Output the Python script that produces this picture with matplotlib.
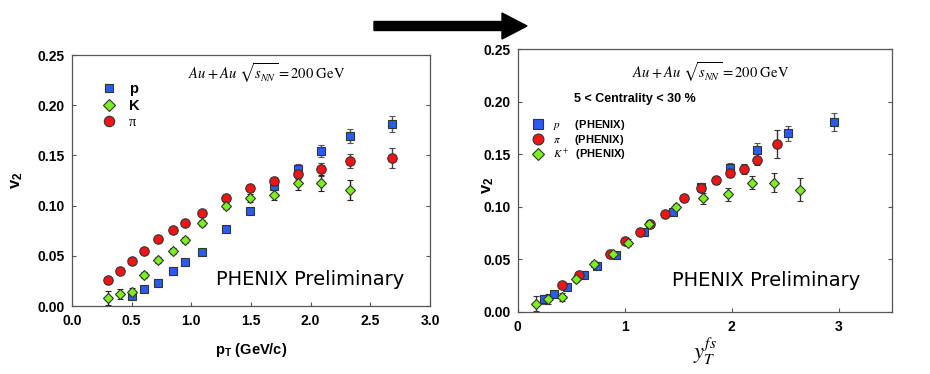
import matplotlib
matplotlib.use("Agg")
import matplotlib.pyplot as plt
from matplotlib.patches import FancyArrow

plt.rcParams['font.family'] = ['Liberation Sans', 'DejaVu Sans']
plt.rcParams['mathtext.fontset'] = 'custom'
plt.rcParams['mathtext.rm'] = 'Liberation Sans'
plt.rcParams['mathtext.bf'] = 'Liberation Sans:bold'
plt.rcParams['mathtext.it'] = 'Liberation Sans:italic'

# ---- left panel: v2 vs pT ----
pt_p = [0.5, 0.6, 0.72, 0.85, 0.95, 1.09, 1.29, 1.49, 1.69, 1.89, 2.09, 2.33, 2.68]
v2_p = [0.010, 0.017, 0.023, 0.035, 0.0435, 0.054, 0.077, 0.0945, 0.120, 0.136, 0.154, 0.169, 0.181]
err_p = [0.002, 0.002, 0.002, 0.002, 0.002, 0.002, 0.002, 0.003, 0.004, 0.005, 0.006, 0.007, 0.008]

pt_pi = [0.3, 0.4, 0.5, 0.6, 0.72, 0.85, 0.95, 1.09, 1.29, 1.49, 1.69, 1.89, 2.09, 2.33, 2.68]
v2_pi = [0.0255, 0.035, 0.0445, 0.055, 0.067, 0.0757, 0.083, 0.093, 0.108, 0.118, 0.125, 0.132, 0.136, 0.144, 0.147]
err_pi = [0.002, 0.002, 0.002, 0.002, 0.002, 0.002, 0.002, 0.002, 0.003, 0.003, 0.004, 0.005, 0.006, 0.007, 0.010]

pt_k = [0.3, 0.4, 0.5, 0.6, 0.72, 0.85, 0.95, 1.09, 1.29, 1.49, 1.69, 1.89, 2.09, 2.33]
v2_k = [0.0076, 0.012, 0.0136, 0.031, 0.0455, 0.055, 0.066, 0.083, 0.100, 0.108, 0.111, 0.123, 0.123, 0.116]
err_k = [0.007, 0.005, 0.004, 0.003, 0.003, 0.003, 0.003, 0.003, 0.003, 0.004, 0.005, 0.007, 0.008, 0.010]

# ---- right panel: v2 vs yT^fs ----
yt_p = [0.247, 0.34, 0.465, 0.62, 0.74, 0.918, 1.183, 1.449, 1.708, 1.98, 2.232, 2.529, 2.957]
v2r_p = [0.0118, 0.017, 0.0238, 0.035, 0.0435, 0.054, 0.0762, 0.0953, 0.1185, 0.1366, 0.154, 0.170, 0.181]
errr_p = [0.004, 0.002, 0.002, 0.002, 0.002, 0.002, 0.002, 0.003, 0.004, 0.005, 0.0067, 0.007, 0.0086]

yt_pi = [0.415, 0.568, 0.859, 1.0, 1.14, 1.24, 1.38, 1.55, 1.71, 1.85, 1.98, 2.11, 2.24, 2.42]
v2r_pi = [0.0254, 0.035, 0.055, 0.0677, 0.0762, 0.0832, 0.093, 0.108, 0.1175, 0.125, 0.132, 0.136, 0.145, 0.160]
errr_pi = [0.002, 0.002, 0.002, 0.002, 0.002, 0.002, 0.002, 0.002, 0.003, 0.003, 0.004, 0.005, 0.005, 0.0133]

yt_k = [0.172, 0.281, 0.412, 0.54, 0.715, 0.89, 1.027, 1.227, 1.483, 1.73, 1.964, 2.19, 2.398, 2.638]
v2r_k = [0.0076, 0.012, 0.014, 0.0314, 0.0454, 0.055, 0.0658, 0.0832, 0.100, 0.108, 0.1118, 0.123, 0.123, 0.116]
errr_k = [0.007, 0.005, 0.004, 0.003, 0.003, 0.003, 0.003, 0.003, 0.003, 0.005, 0.006, 0.0065, 0.009, 0.011]

BLUE = '#2a5cf5'
RED = '#f01414'
GREEN = '#7cf01e'
EDGE = '#333333'


def style_axes(ax):
    for s in ax.spines.values():
        s.set_color('#555555')
        s.set_linewidth(0.9)
    ax.tick_params(axis='both', direction='in', length=3, width=0.8, color='#555555',
                   labelsize=10, right=True, top=False)
    ax.tick_params(axis='x', pad=6)
    ax.tick_params(axis='y', pad=5)
    for lab in ax.get_xticklabels() + ax.get_yticklabels():
        lab.set_fontweight('bold')


def draw(ax, x, y, e, marker, color, ms, ecol):
    return ax.errorbar(x, y, yerr=e, fmt=marker, color=color, mfc=color, mec=EDGE, mew=0.8,
                       ms=ms, ecolor=ecol, elinewidth=1.0, capsize=2.5, capthick=1.0)


fig = plt.figure(figsize=(9.3, 3.74), dpi=100)

# left panel
ax1 = fig.add_axes([0.0774, 0.1818, 0.385, 0.671])
eb_p = draw(ax1, pt_p, v2_p, err_p, 's', BLUE, 5.8, '#555555')
eb_pi = draw(ax1, pt_pi, v2_pi, err_pi, 'o', RED, 6.8, '#444444')
eb_k = draw(ax1, pt_k, v2_k, err_k, 'D', GREEN, 5.6, '#222222')
ax1.set_xlim(0, 3.0)
ax1.set_ylim(0, 0.25)
ax1.set_xticks([0.0, 0.5, 1.0, 1.5, 2.0, 2.5, 3.0])
ax1.set_yticks([0.0, 0.05, 0.10, 0.15, 0.20, 0.25])
ax1.set_xticklabels(['0.0', '0.5', '1.0', '1.5', '2.0', '2.5', '3.0'])
ax1.set_yticklabels(['0.00', '0.05', '0.10', '0.15', '0.20', '0.25'])
style_axes(ax1)
ax1.set_xlabel(r'p$_\mathbf{T}$ (GeV/c)', fontsize=10.5, fontweight='bold', labelpad=9)
ax1.set_ylabel(r'v$_\mathbf{2}$', fontsize=12, fontweight='bold')
ax1.yaxis.set_label_coords(-0.131, 0.50)

leg1 = ax1.legend([eb_p[0], eb_k[0], eb_pi[0]], ['p', 'K', '\u03c0'], loc='upper left',
                  bbox_to_anchor=(0.045, 0.945), frameon=False, handlelength=1.0,
                  handletextpad=0.9, labelspacing=0.2, markerscale=1.1,
                  prop={'weight': 'bold', 'size': 10.5})
leg1.get_texts()[2].set_family('Liberation Serif')
leg1.get_texts()[2].set_fontweight('normal')

ax1.text(0.324, 0.928, r'$Au + Au\ \sqrt{s_{NN}} = 200\ \mathrm{GeV}$', transform=ax1.transAxes,
         fontsize=10.5, va='center', ha='left', math_fontfamily='stix')
ax1.text(0.402, 0.104, 'PHENIX Preliminary', transform=ax1.transAxes, fontsize=14,
         va='center', ha='left', family='DejaVu Sans')

# right panel
ax2 = fig.add_axes([0.5567, 0.1666, 0.4028, 0.7016])
rb_p = draw(ax2, yt_p, v2r_p, errr_p, 's', BLUE, 5.8, '#555555')
rb_pi = draw(ax2, yt_pi, v2r_pi, errr_pi, 'o', RED, 6.8, '#333333')
rb_k = draw(ax2, yt_k, v2r_k, errr_k, 'D', GREEN, 5.6, '#333333')
ax2.set_xlim(0, 3.5)
ax2.set_ylim(0, 0.25)
ax2.set_xticks([0, 1, 2, 3])
ax2.set_yticks([0.0, 0.05, 0.10, 0.15, 0.20, 0.25])
ax2.set_yticklabels(['0.00', '0.05', '0.10', '0.15', '0.20', '0.25'])
style_axes(ax2)
ax2.set_xlabel(r'$y_T^{fs}$', fontsize=16, labelpad=1, math_fontfamily='stix')
ax2.set_ylabel(r'v$_\mathbf{2}$', fontsize=12, fontweight='bold')
ax2.yaxis.set_label_coords(-0.058, 0.483)

leg2 = ax2.legend([rb_p[0], rb_pi[0], rb_k[0]],
                  [r'$p$     (PHENIX)', r'$\pi$     (PHENIX)', r'$K^+$  (PHENIX)'],
                  loc='upper left', bbox_to_anchor=(0.012, 0.775), frameon=False,
                  handlelength=1.0, handletextpad=0.9, labelspacing=0.02, markerscale=1.15,
                  prop={'weight': 'bold', 'size': 8})
for t in leg2.get_texts():
    t.set_math_fontfamily('stix')

ax2.text(0.305, 0.913, r'$Au + Au\ \sqrt{s_{NN}} = 200\ \mathrm{GeV}$', transform=ax2.transAxes,
         fontsize=10.5, va='center', ha='left', math_fontfamily='stix')
ax2.text(0.150, 0.81, '5 < Centrality < 30 %', transform=ax2.transAxes, fontsize=9,
         fontweight='bold', va='center', ha='left')
ax2.text(0.412, 0.118, 'PHENIX Preliminary', transform=ax2.transAxes, fontsize=14,
         va='center', ha='left', family='DejaVu Sans')

# big arrow between the panels
arrow = FancyArrow(3.74, 3.48, 1.53, 0.0, width=0.09, head_width=0.26, head_length=0.25,
                   length_includes_head=True, color='black', transform=fig.dpi_scale_trans)
fig.add_artist(arrow)

fig.savefig('out.png', dpi=100)
